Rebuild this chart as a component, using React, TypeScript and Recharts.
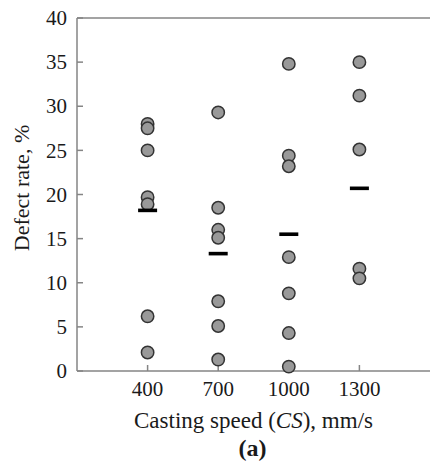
import React from "react";
import { ScatterChart, Scatter, XAxis, YAxis, ReferenceLine, Label } from "recharts";

// casting speed categories, mm/s
const speeds = [400, 700, 1000, 1300];

// defect rate readings (%) per casting speed
const defects400 = [28.0, 27.5, 25.0, 19.7, 18.9, 6.2, 2.1];
const defects700 = [29.3, 18.5, 16.0, 15.1, 7.9, 5.1, 1.3];
const defects1000 = [34.8, 24.4, 23.2, 12.9, 8.8, 4.3, 0.5];
const defects1300 = [35.0, 31.2, 25.1, 11.6, 10.5];

// mean defect rate per speed (black dashes)
const meanDefect = [18.2, 13.3, 15.5, 20.7];

const yTicks = [0, 5, 10, 15, 20, 25, 30, 35, 40];

const FONT = "Liberation Serif";
const AXIS = "#858585";
const INK = "#1a1a1a";

const points = [defects400, defects700, defects1000, defects1300].flatMap((vals, i) =>
  vals.map((v) => ({ cs: speeds[i], rate: v }))
);
const means = speeds.map((s, i) => ({ cs: s, rate: meanDefect[i] }));

const Dot = (props: any) => (
  <circle cx={props.cx} cy={props.cy} r={6.2} fill="#999999" stroke="#333333" strokeWidth={1.5} />
);

const Dash = (props: any) => (
  <rect x={props.cx - 9.5} y={props.cy - 1.8} width={19} height={3.6} fill="#000000" />
);

function XTick(props: any) {
  return (
    <text x={props.x} y={props.y} dy="0.7em" textAnchor="middle" fontFamily={FONT} fontSize={21} fill={INK}>
      {String(props.payload.value)}
    </text>
  );
}

function YTick(props: any) {
  return (
    <text x={props.x} y={props.y} dy="0.34em" textAnchor="end" fontFamily={FONT} fontSize={21} fill={INK}>
      {String(props.payload.value)}
    </text>
  );
}

const App = () => {
  return (
    <div style={{ position: "absolute", left: 0, top: 0 }}>
      <ScatterChart width={430} height={472} margin={{ top: 18, right: 0, bottom: 0, left: 0 }}>
        <XAxis
          type="number"
          dataKey="cs"
          domain={[100, 1600]}
          ticks={speeds}
          tickSize={-6}
          tickMargin={16}
          height={101}
          stroke={AXIS}
          strokeWidth={1.5}
          tick={(p: any) => <XTick {...p} />}
        >
          <Label
            content={(p: any) => {
              const vb = p.viewBox;
              const cx = vb.x + vb.width / 2;
              return (
                <g fontFamily={FONT} fill={INK} textAnchor="middle">
                  <text x={cx} y={428} fontSize={23}>
                    Casting speed (<tspan fontStyle="italic">CS</tspan>), mm/s
                  </text>
                  <text x={cx - 1} y={456} fontSize={24} fontWeight="bold">
                    (a)
                  </text>
                </g>
              );
            }}
          />
        </XAxis>
        <YAxis
          type="number"
          dataKey="rate"
          domain={[0, 40]}
          ticks={yTicks}
          tickSize={-6}
          tickMargin={16}
          width={77}
          stroke={AXIS}
          strokeWidth={1.5}
          tick={(p: any) => <YTick {...p} />}
        >
          <Label
            content={() => (
              <text
                x={0}
                y={0}
                transform="translate(29 188) rotate(-90)"
                textAnchor="middle"
                fontFamily={FONT}
                fontSize={22}
                fill={INK}
              >
                Defect rate, %
              </text>
            )}
          />
        </YAxis>
        <ReferenceLine y={40} stroke={AXIS} strokeWidth={1.5} />
        <Scatter data={points} shape={Dot} isAnimationActive={false} />
        <Scatter data={means} shape={Dash} isAnimationActive={false} />
      </ScatterChart>
    </div>
  );
};

export default App;
